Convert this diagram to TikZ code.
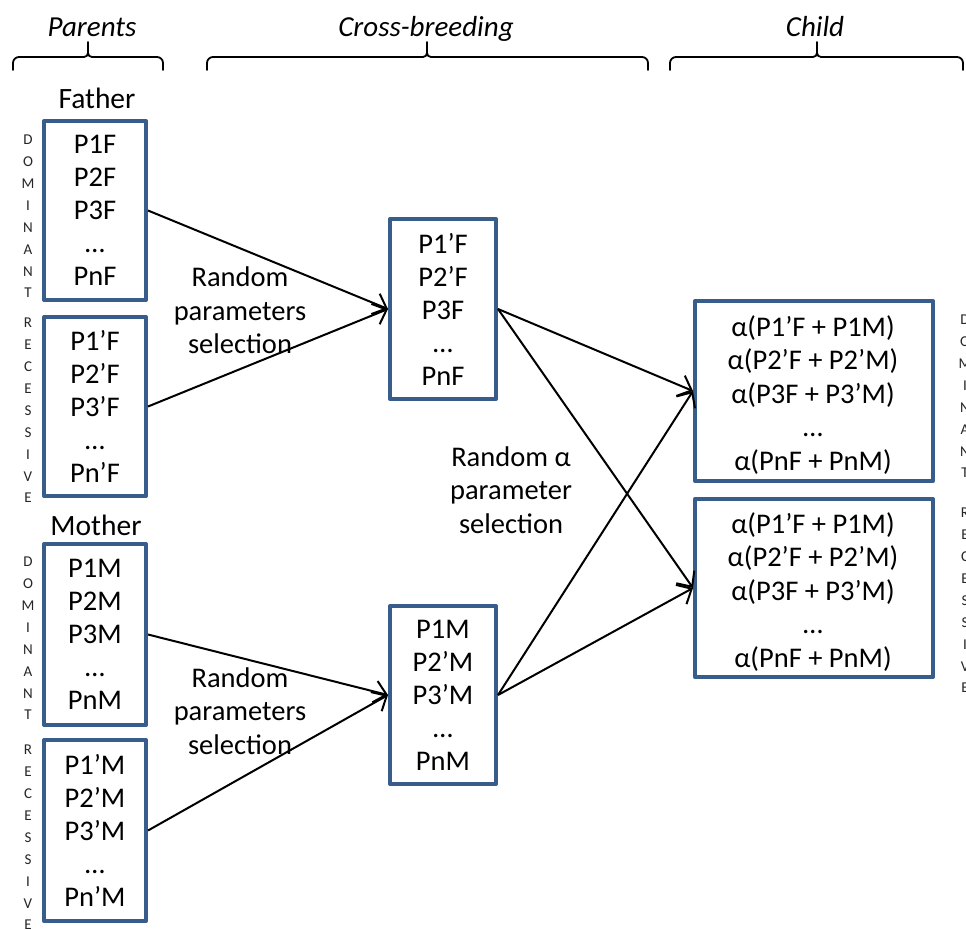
\documentclass[tikz,border=0pt]{standalone}
\usepackage{fontspec}
\setmainfont{Carlito}
\usetikzlibrary{arrows.meta}
\definecolor{boxblue}{HTML}{385D8A}

% horizontal curly bracket: left end, tip, right end
\newcommand{\topbracket}[3]{%
  \draw[bracket] (#1,70) -- (#1,63) to[out=90,in=180] ({#1+6},57)
    -- ({#2-4},57) to[out=0,in=-90] (#2,53) -- (#2,42)
    (#2,53) to[out=-90,in=180] ({#2+4},57)
    -- ({#3-6},57) to[out=0,in=90] (#3,63) -- (#3,70);}

\begin{document}
\begin{tikzpicture}[x=1pt,y=-1pt,
  gene/.style={draw=boxblue, line width=4pt, line join=round, inner sep=0pt,
    align=center, font=\fontsize{28.5}{33}\selectfont},
  cell/.style={draw=boxblue, line width=4pt, line join=round, inner sep=0pt},
  lbl/.style={align=center, inner sep=0pt, font=\fontsize{28.5}{33.5}\selectfont},
  head/.style={anchor=base, inner sep=0pt, font=\fontsize{29}{33}\selectfont\itshape},
  parent/.style={anchor=base, inner sep=0pt, font=\fontsize{29.5}{33}\selectfont},
  vert/.style={align=center, inner sep=0pt, font=\fontsize{15}{21.9}\selectfont, text=black!85},
  link/.style={line width=2pt, -{Straight Barb[length=12pt,width=22pt,line width=2pt]}},
  bracket/.style={line width=1.8pt, line cap=round}
]
\useasboundingbox (0,0) rectangle (966,929);
\fill[white] (0,0) rectangle (966,929);
\clip (0,0) rectangle (966,929);

% column headings with their brackets
\node[head] (hpar) at (92,36) {Parents};
\node[head] (hcross) at (426,36) {Cross-breeding};
\node[head] (hchild) at (815,36) {Child};
\topbracket{13}{88}{163}
\topbracket{207}{427}{648}
\topbracket{670}{817}{963}

% parents
\node[parent] (father) at (97,108) {Father};
\node[parent] (mother) at (96,535) {Mother};

\node[gene, minimum width=102pt, minimum height=179pt] (fdom) at (95,210.5)
  {P1F\\P2F\\P3F\\…\\PnF};
\node[gene, minimum width=102pt, minimum height=179pt] (frec) at (95,406.5)
  {P1’F\\P2’F\\P3’F\\…\\Pn’F};
\node[gene, minimum width=102pt, minimum height=181pt] (mdom) at (95,634.5)
  {P1M\\P2M\\P3M\\…\\PnM};
\node[gene, minimum width=102pt, minimum height=181pt] (mrec) at (95,830.5)
  {P1’M\\P2’M\\P3’M\\…\\Pn’M};

\node[vert] (lfd) at (28,216.5) {D\\O\\M\\I\\N\\A\\N\\T};
\node[vert] (lfr) at (28,410.5) {R\\E\\C\\E\\S\\S\\I\\V\\E};
\node[vert] (lmd) at (28,638.5) {D\\O\\M\\I\\N\\A\\N\\T};
\node[vert] (lmr) at (28,837.5) {R\\E\\C\\E\\S\\S\\I\\V\\E};

% cross-bred parents
\node[gene, minimum width=106pt, minimum height=180pt] (xf) at (443,309)
  {P1’F\\P2’F\\P3F\\…\\PnF};
\node[gene, minimum width=106pt, minimum height=178pt] (xm) at (443,695)
  {P1M\\P2’M\\P3’M\\…\\PnM};

% children
\node[cell, minimum width=238pt, minimum height=180pt] (cd) at (814,391) {};
\node[cell, minimum width=238pt, minimum height=178pt] (cr) at (814,588) {};
\node[lbl] (cdt) at (813,395)
  {α(P1’F + P1M)\\α(P2’F + P2’M)\\α(P3F + P3’M)\\…\\α(PnF + PnM)};
\node[lbl] (crt) at (813,592)
  {α(P1’F + P1M)\\α(P2’F + P2’M)\\α(P3F + P3’M)\\…\\α(PnF + PnM)};

\node[vert] (rcd) at (965,396.5) {D\\O\\M\\I\\N\\A\\N\\T};
\node[vert] (rcr) at (965,600.5) {R\\E\\C\\E\\S\\S\\I\\V\\E};

% selection labels
\node[lbl] (sel1) at (240,310.5) {Random\\parameters\\selection};
\node[lbl] (sel2) at (240,711) {Random\\parameters\\selection};
\node[lbl] (sel3) at (511,490) {Random α\\parameter\\selection};

% connectors
\draw[link] (fdom.east) -- (xf.west);
\draw[link] (frec.east) -- (xf.west);
\draw[link] (mdom.east) -- (xm.west);
\draw[link] (mrec.east) -- (xm.west);
\draw[link] (xf.east) -- (cd.west);
\draw[link] (xf.east) -- (cr.west);
\draw[link] (xm.east) -- (cd.west);
\draw[link] (xm.east) -- (cr.west);
\end{tikzpicture}
\end{document}
